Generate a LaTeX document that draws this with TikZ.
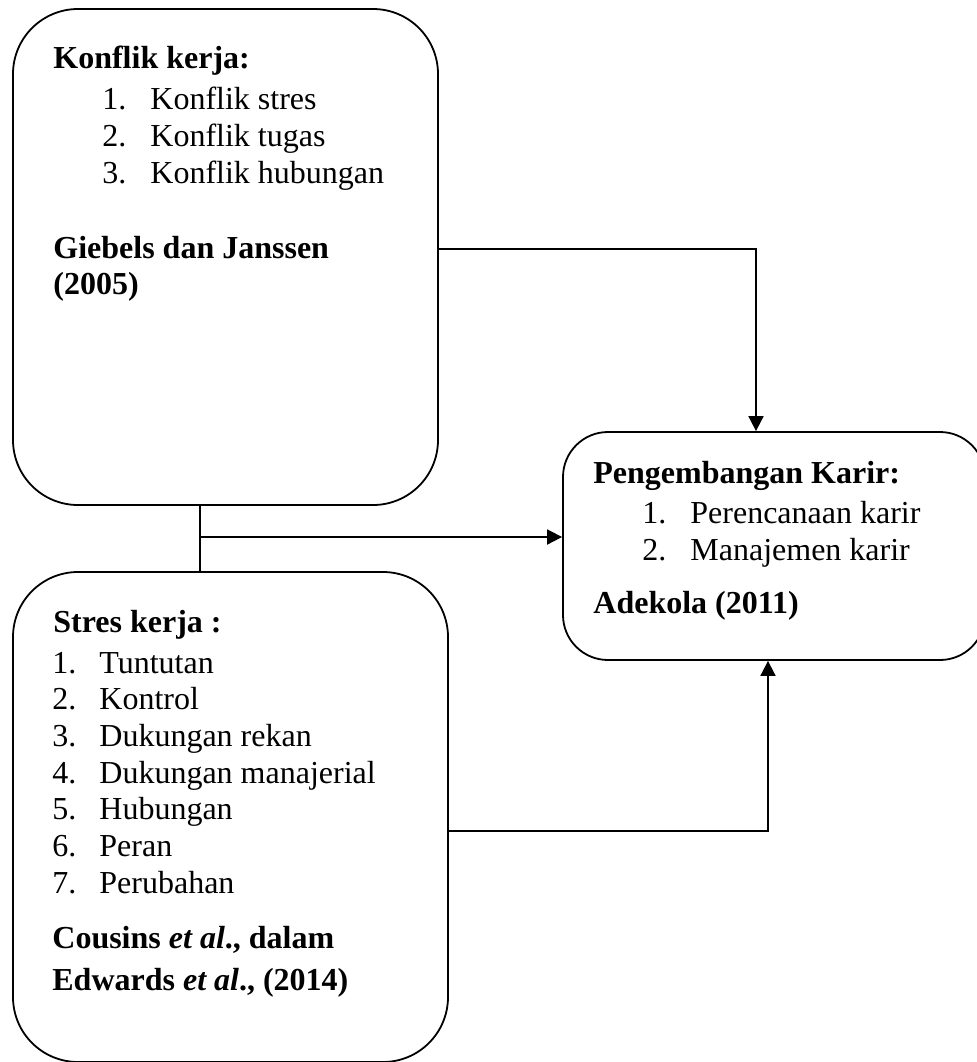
\documentclass[tikz,border=0pt]{standalone}
\usepackage{fontspec}
\setmainfont{Liberation Serif}
\usetikzlibrary{arrows.meta}

\tikzset{
  kotak/.style={draw, line width=0.9pt, rounded corners=32.5pt, inner sep=0pt},
  teks/.style={anchor=base west, inner sep=0pt, font=\fontsize{16}{18.5}\selectfont},
  hubung/.style={line width=0.9pt},
}

\begin{document}
\begin{tikzpicture}[x=0.5pt, y=-0.5pt, >={Triangle[length=7.5pt,width=7.5pt]}]
  \useasboundingbox (0,0) rectangle (977,1062);
  \clip (0,0) rectangle (977,1062);

  % Kotak-kotak
  \node[kotak, minimum width=212.5pt, minimum height=248pt] (konflik) at (225.5,257) {};
  \node[kotak, minimum width=217.5pt, minimum height=245pt] (stres) at (230.5,817) {};
  \node[kotak, rounded corners=22.5pt, minimum width=211pt, minimum height=114pt] (karir) at (774,546) {};

  % Konflik kerja
  \node[teks] (judulK) at (53,68) {\textbf{Konflik kerja:}};
  \foreach \teksK [count=\n] in {Konflik stres, Konflik tugas, Konflik hubungan}{
    \node[teks] (noK\n) at (102,{109+37*(\n-1)}) {\n.};
    \node[teks] (itemK\n) at (150,{109+37*(\n-1)}) {\teksK};
  }
  \node[teks] (sumberK1) at (53,258) {\textbf{Giebels dan Janssen}};
  \node[teks] (sumberK2) at (53,294) {\textbf{(2005)}};

  % Stres kerja
  \node[teks] (judulS) at (53,632) {\textbf{Stres kerja :}};
  \foreach \teksS [count=\n] in {Tuntutan, Kontrol, Dukungan rekan, Dukungan manajerial, Hubungan, Peran, Perubahan}{
    \node[teks] (noS\n) at (52,{673+36.7*(\n-1)}) {\n.};
    \node[teks] (itemS\n) at (99,{673+36.7*(\n-1)}) {\teksS};
  }
  \node[teks] (sumberS1) at (52,948) {\textbf{Cousins \textit{et al}., dalam}};
  \node[teks] (sumberS2) at (52,990) {\textbf{Edwards \textit{et al}., (2014)}};

  % Pengembangan karir
  \node[teks] (judulP) at (593,483) {\textbf{Pengembangan Karir:}};
  \foreach \teksP [count=\n] in {Perencanaan karir, Manajemen karir}{
    \node[teks] (noP\n) at (642,{523+37*(\n-1)}) {\n.};
    \node[teks] (itemP\n) at (690,{523+37*(\n-1)}) {\teksP};
  }
  \node[teks] (sumberP) at (593,613) {\textbf{Adekola (2011)}};

  % Panah
  \coordinate (cabang) at (200,537);
  \draw[hubung, ->] ([yshift=4pt]konflik.east) -| ([xshift=-9pt]karir.north);
  \draw[hubung] ([xshift=-12.75pt]konflik.south) -- ([xshift=-15.25pt]stres.north);
  \draw[hubung, ->] (cabang) -- (cabang -| karir.west);
  \draw[hubung, ->] ([yshift=-7pt]stres.east) -| ([xshift=-3pt]karir.south);
\end{tikzpicture}
\end{document}
